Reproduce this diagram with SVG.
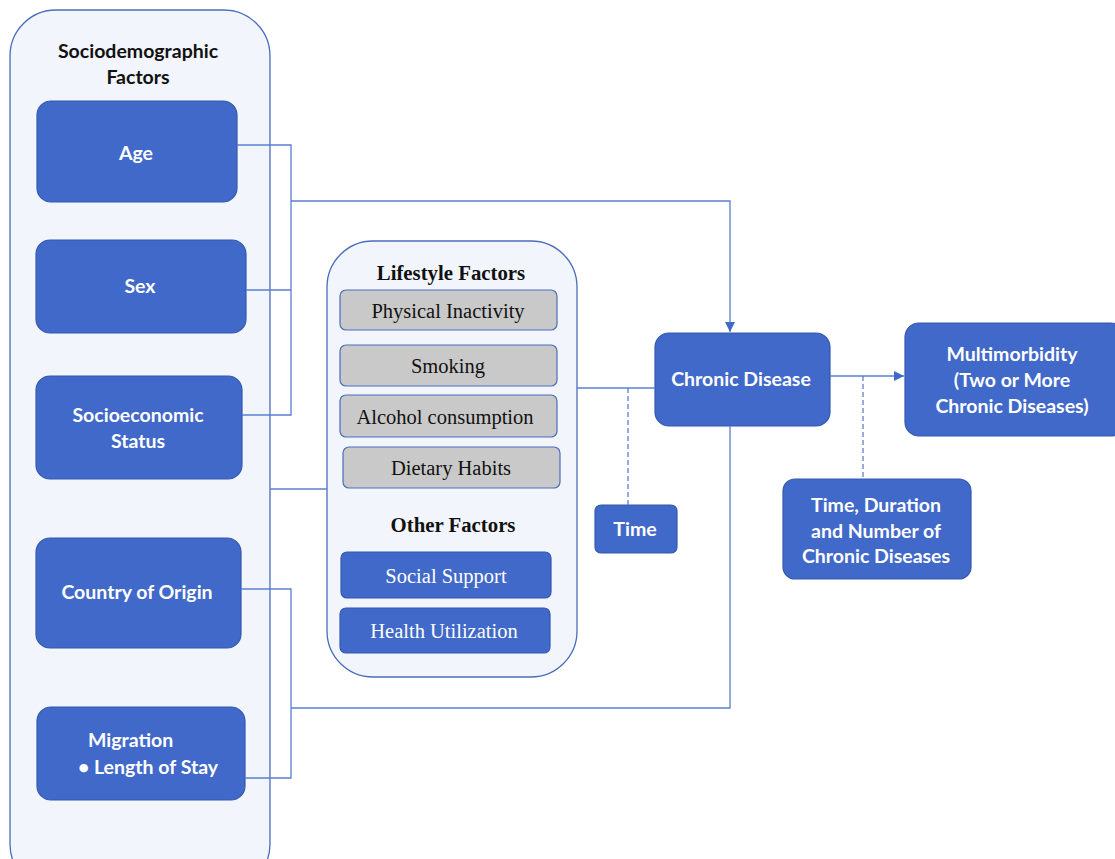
<svg xmlns="http://www.w3.org/2000/svg" width="1115" height="859" viewBox="0 0 1115 859">
<defs>
<style>
.cont{fill:#f2f5fc;stroke:#4a6dbd;stroke-width:1.3}
.blue{fill:#4169c9;stroke:#3559b0;stroke-width:1.2}
.gray{fill:#c9c9c9;stroke:#4a6dbd;stroke-width:1.2}
.wt{font-family:Lato,"Open Sans",sans-serif;font-weight:bold;font-size:19.5px;fill:#fff;text-anchor:middle}
.bt{font-family:Lato,"Open Sans",sans-serif;font-weight:bold;font-size:19.5px;fill:#111;text-anchor:middle}
.st{font-family:"Liberation Serif",serif;font-size:20.5px;fill:#111;text-anchor:middle}
.sw{font-family:"Liberation Serif",serif;font-size:20.5px;fill:#fff;text-anchor:middle}
.sb{font-family:"Liberation Serif",serif;font-size:20.8px;font-weight:bold;fill:#111;text-anchor:middle}
.ln{fill:none;stroke:#5a7fd2;stroke-width:1.3}
.dl{fill:none;stroke:#5a7fd2;stroke-width:1.3;stroke-dasharray:5 3}
</style>
<marker id="ah" viewBox="0 0 10 10" refX="10" refY="5" markerWidth="10" markerHeight="10" markerUnits="userSpaceOnUse" orient="auto">
<path d="M0,0 L10,5 L0,10 z" fill="#4169c9"/>
</marker>
</defs>
<rect width="1115" height="859" fill="#fff"/>

<g id="sociodemographic">
<rect class="cont" x="10" y="10" width="260" height="880" rx="46"/>
<text class="bt" x="138" y="58">Sociodemographic</text>
<text class="bt" x="138" y="84">Factors</text>
</g>
<g id="age"><rect class="blue" x="37" y="101" width="200" height="101" rx="14"/><text class="wt" x="136" y="160">Age</text></g>
<g id="sex"><rect class="blue" x="36" y="240" width="210" height="93" rx="14"/><text class="wt" x="140" y="293">Sex</text></g>
<g id="ses"><rect class="blue" x="36" y="376" width="206" height="103" rx="14"/><text class="wt" x="138" y="422">Socioeconomic</text><text class="wt" x="138" y="448">Status</text></g>
<g id="country"><rect class="blue" x="36" y="538" width="205" height="110" rx="14"/><text class="wt" x="137" y="599">Country of Origin</text></g>
<g id="migration"><rect class="blue" x="37" y="707" width="208" height="93" rx="14"/><text class="wt" x="88" y="747" style="text-anchor:start">Migration</text><text class="wt" x="78" y="774" style="text-anchor:start">•</text><text class="wt" x="94" y="774" style="text-anchor:start">Length of Stay</text></g>

<g id="lifestyle">
<rect class="cont" x="327" y="241" width="250" height="436" rx="46"/>
<text class="sb" x="451" y="280">Lifestyle Factors</text>
<text class="sb" x="453" y="532">Other Factors</text>
</g>
<g id="physical"><rect class="gray" x="340" y="290" width="217" height="40" rx="6"/><text class="st" x="448" y="318">Physical Inactivity</text></g>
<g id="smoking"><rect class="gray" x="340" y="345" width="217" height="41" rx="6"/><text class="st" x="448" y="373">Smoking</text></g>
<g id="alcohol"><rect class="gray" x="340" y="395" width="217" height="42" rx="6"/><text class="st" x="445" y="424">Alcohol consumption</text></g>
<g id="dietary"><rect class="gray" x="343" y="447" width="217" height="41" rx="6"/><text class="st" x="451" y="475">Dietary Habits</text></g>
<g id="social"><rect class="blue" x="341" y="552" width="210" height="46" rx="6"/><text class="sw" x="446" y="583">Social Support</text></g>
<g id="health"><rect class="blue" x="340" y="608" width="210" height="45" rx="6"/><text class="sw" x="444" y="638">Health Utilization</text></g>

<g id="time"><rect class="blue" x="595" y="505" width="82" height="48" rx="6"/><text class="wt" x="635" y="536">Time</text></g>
<g id="chronic"><rect class="blue" x="655" y="333" width="175" height="93" rx="14"/><text class="wt" x="741" y="386">Chronic Disease</text></g>
<g id="multimorbidity"><rect class="blue" x="905" y="323" width="220" height="113" rx="14"/><text class="wt" x="1012" y="361">Multimorbidity</text><text class="wt" x="1012" y="387">(Two or More</text><text class="wt" x="1012" y="413">Chronic Diseases)</text></g>
<g id="duration"><rect class="blue" x="783" y="479" width="188" height="100" rx="12"/><text class="wt" x="876" y="512">Time, Duration</text><text class="wt" x="876" y="538">and Number of</text><text class="wt" x="876" y="563">Chronic Diseases</text></g>

<g id="connectors">
<path class="ln" d="M237,145 H291 V415 H242 M246,290 H291"/>
<path class="ln" d="M291,201 H730 V332" marker-end="url(#ah)"/>
<path class="ln" d="M270,489 H327"/>
<path class="ln" d="M241,589 H291 V778 H245 M291,708 H730 V426"/>
<path class="ln" d="M577,388 H655"/>
<path class="dl" d="M628,388 V505"/>
<path class="ln" d="M830,376 H904" marker-end="url(#ah)"/>
<path class="dl" d="M863,376 V479"/>
</g>
</svg>
